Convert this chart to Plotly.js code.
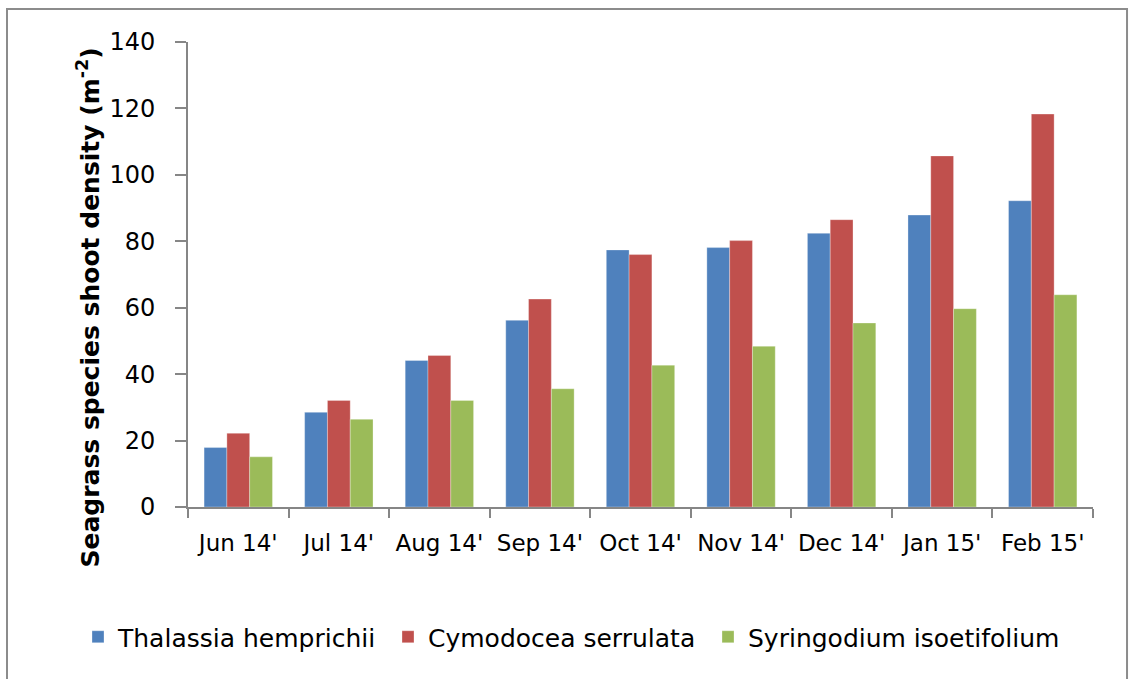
<!DOCTYPE html>
<html>
<head>
<meta charset="utf-8">
<script src="https://cdn.plot.ly/plotly-3.0.1.min.js"></script>
<style>html,body{margin:0;padding:0;background:#fff;}#chart{width:1133px;height:679px;}</style>
</head>
<body>
<div id="chart"></div>
<script>
const months = ["Jun 14'", "Jul 14'", "Aug 14'", "Sep 14'", "Oct 14'", "Nov 14'", "Dec 14'", "Jan 15'", "Feb 15'"];
const thalassia = [17.9, 28.5, 44.1, 56.2, 77.4, 78.1, 82.4, 87.9, 92.2];
const cymodocea = [22.2, 32.1, 45.6, 62.6, 76.0, 80.2, 86.5, 105.7, 118.3];
const syringodium = [15.1, 26.4, 32.1, 35.6, 42.7, 48.4, 55.4, 59.7, 63.9];
const seriesNames = ["Thalassia hemprichii", "Cymodocea serrulata", "Syringodium isoetifolium"];
const seriesColors = ["#4F81BD", "#C0504D", "#9BBB59"];
const yTitle = "Seagrass species shoot density (m<sup>-2</sup>)";

const vals = [thalassia, cymodocea, syringodium];
const legendIds = ['legend', 'legend2', 'legend3'];
const traces = vals.map((v, i) => ({
  type: 'bar', x: months, y: v, name: seriesNames[i], legend: legendIds[i],
  marker: {color: seriesColors[i], line: {color: 'rgba(255,255,255,0.5)', width: 0.6}}
}));

const fontMain = '"DejaVu Sans", sans-serif';
const legendText = [118, 428, 748];
function mkLegend(px) {
  return {orientation: 'h', xref: 'container', yref: 'container', x: (px - 40) / 1133, xanchor: 'left',
    y: (679 - 637) / 679, yanchor: 'middle', bgcolor: 'rgba(0,0,0,0)',
    font: {family: fontMain, size: 25, color: '#000'}, itemwidth: 30};
}
const layout = {
  width: 1133, height: 679,
  margin: {l: 188, r: 40, t: 42, b: 172, autoexpand: false},
  paper_bgcolor: '#fff', plot_bgcolor: '#fff',
  barmode: 'group', bargap: 0.32, bargroupgap: 0,
  showlegend: true,
  legend: mkLegend(legendText[0]),
  legend2: mkLegend(legendText[1]),
  legend3: mkLegend(legendText[2]),
  xaxis: {type: 'category', showline: true, linecolor: '#868686', linewidth: 2,
    ticks: 'outside', tickson: 'boundaries', ticklen: 9, tickwidth: 2, tickcolor: '#868686',
    tickfont: {family: fontMain, size: 23, color: '#000'}, showgrid: false, zeroline: false,
    ticklabelstandoff: 14},
  yaxis: {range: [0, 140], dtick: 20, showline: true, linecolor: '#868686', linewidth: 2,
    ticks: 'outside', ticklen: 11, tickwidth: 2, tickcolor: '#868686',
    tickfont: {family: fontMain, size: 24, color: '#000'}, showgrid: false, zeroline: false,
    ticklabelstandoff: 15},
  annotations: [{text: '<b>' + yTitle + '</b>', textangle: -90, xref: 'paper', yref: 'paper',
    x: -0.11, y: 0.43, xanchor: 'center', yanchor: 'middle', showarrow: false,
    font: {family: fontMain, size: 25, color: '#000'}}],
  shapes: [{type: 'rect', xref: 'paper', yref: 'paper', x0: -0.2, x1: 1.0376, y0: -0.4, y1: 1.071,
    line: {color: '#8c8c8c', width: 2}, fillcolor: 'rgba(0,0,0,0)', layer: 'below'}]
};

Plotly.newPlot('chart', traces, layout, {staticPlot: true, displayModeBar: false});
</script>
</body>
</html>
